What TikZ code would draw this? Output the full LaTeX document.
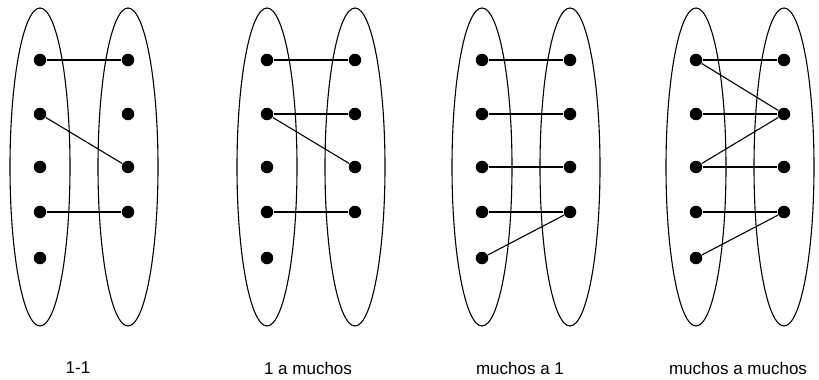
\documentclass[tikz,border=0pt]{standalone}
\usepackage{fontspec}
\setmainfont{Liberation Sans}
\tikzset{dot/.style = {circle, fill = black, inner sep = 0pt, minimum size = 12.5pt}}
\begin{document}
\begin{tikzpicture} [x = 1pt, y = -1pt, line width = 1.1pt]
	\useasboundingbox (0,0) rectangle (819,380);
	\foreach \g/\x in {1/40, 2/267, 3/482, 4/696} {
		\draw (\x,167) ellipse (30pt and 159pt);
		\draw (\x+88,167) ellipse (30pt and 159pt);
		\foreach \i/\y in {1/60, 2/114, 3/167, 4/212, 5/258}
			\node [dot] (g\g a\i) at (\x,\y) {};
		\foreach \i/\y in {1/60, 2/114, 3/167, 4/212}
			\node [dot] (g\g b\i) at (\x+88,\y) {};
	}
	% 1-1
	\draw (g1a1) -- (g1b1);
	\draw (g1a2) -- (g1b3);
	\draw (g1a4) -- (g1b4);
	% 1 a muchos
	\draw (g2a1) -- (g2b1);
	\draw (g2a2) -- (g2b2);
	\draw (g2a2) -- (g2b3);
	\draw (g2a4) -- (g2b4);
	% muchos a 1
	\draw (g3a1) -- (g3b1);
	\draw (g3a2) -- (g3b2);
	\draw (g3a3) -- (g3b3);
	\draw (g3a4) -- (g3b4);
	\draw (g3a5) -- (g3b4);
	% muchos a muchos
	\draw (g4a1) -- (g4b1);
	\draw (g4a1) -- (g4b2);
	\draw (g4a2) -- (g4b2);
	\draw (g4a3) -- (g4b2);
	\draw (g4a3) -- (g4b3);
	\draw (g4a4) -- (g4b4);
	\draw (g4a5) -- (g4b4);
	\begin{scope} [font = \fontsize{17}{20}\selectfont]
	\node (l1) at (78,368) {1-1};
	\node (l2) at (308,368) {1 a muchos};
	\node (l3) at (520,368) {muchos a 1};
	\node (l4) at (738,368) {muchos a muchos};
	\end{scope}
\end{tikzpicture}
\end{document}
